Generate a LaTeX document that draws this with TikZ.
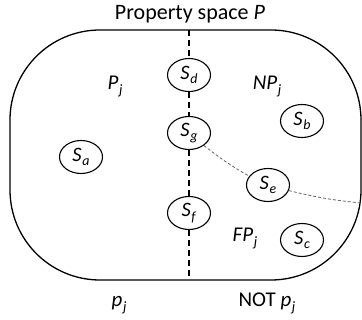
\documentclass[tikz,border=0pt]{standalone}
\usepackage{fontspec}
\setmainfont{Carlito}
\usetikzlibrary{shapes.geometric}
\newcommand\lb[2]{\textit{#1}\kern0.03em\raisebox{-0.22em}{\scalebox{0.68}{\textit{#2}}}}
\tikzset{
  st/.style={ellipse, draw, line width=1.1pt, minimum width=43pt, minimum height=33pt, inner sep=0pt, font=\fontsize{20.5}{22}\selectfont, fill=white},
  lab/.style={anchor=base, inner sep=0pt, font=\fontsize{21}{23}\selectfont},
  divline/.style={line width=1.3pt, dash pattern=on 6pt off 4pt},
  link/.style={gray!80!black, line width=0.8pt, dash pattern=on 3pt off 2pt},
}
\begin{document}
\begin{tikzpicture}[x=1pt,y=-1pt]
\useasboundingbox (0,0) rectangle (362,320);
\draw[line width=1.3pt, rounded corners=90pt] (10,30) rectangle (361,280);
\coordinate (top) at (189,30);
\coordinate (bot) at (189,280);
\coordinate (E) at (361,203);
\node[st] (Sd) at (189,75) {\lb{S}{d}};
\node[st] (Sg) at (189,133) {\lb{S}{g}};
\node[st] (Sf) at (189,213) {\lb{S}{f}};
\node[st] (Sa) at (81,157) {\lb{S}{a}};
\node[st] (Sb) at (302,121) {\lb{S}{b}};
\node[st] (Sc) at (302,240) {\lb{S}{c}};
\node[st] (Se) at (268,185) {\lb{S}{e}};
\draw[divline] (top) -- (Sd);
\draw[divline] (Sd) -- (Sg);
\draw[divline] (Sg) -- (Sf);
\draw[divline] (Sf) -- (bot);
\draw[link] (Sg.-40) to[bend right=4] (Se.155);
\draw[link] (Se.-15) to[bend right=4] (E);
\node[lab, font=\fontsize{22}{24}\selectfont] (title) at (190,20) {Property space \textit{P}};
\node[lab] (Pj) at (115,90) {\lb{P}{j}};
\node[lab] (NPj) at (267,90) {\lb{NP}{j}};
\node[lab] (FPj) at (245,242) {\lb{FP}{j}};
\node[lab] (pj) at (119,307) {\lb{p}{j}};
\node[lab] (notpj) at (267,307) {NOT \lb{p}{j}};
\end{tikzpicture}
\end{document}
